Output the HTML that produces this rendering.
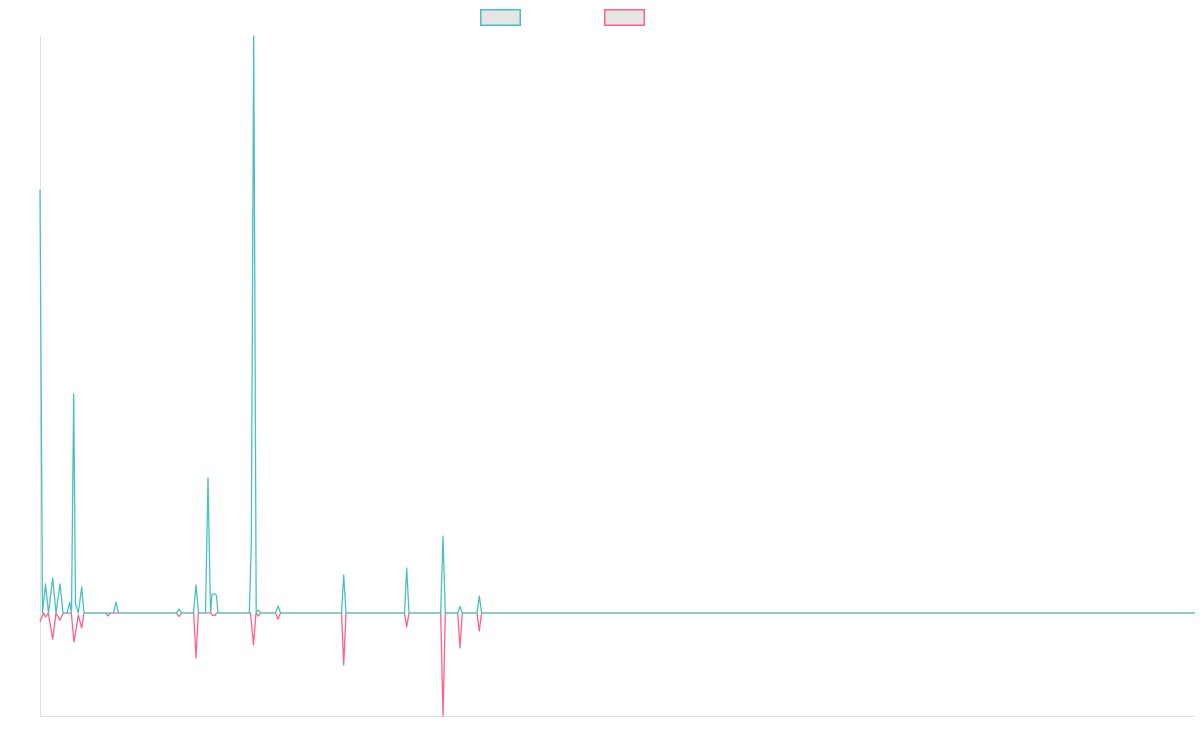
<!DOCTYPE html>
<html>
<head>
<meta charset="utf-8">
<style>
  html, body { margin:0; padding:0; background:#ffffff; }
  body { width:1200px; height:750px; overflow:hidden; font-family:"Liberation Sans", sans-serif; }
  svg { display:block; }
</style>
</head>
<body>
<svg width="1200" height="750" viewBox="0 0 1200 750" xmlns="http://www.w3.org/2000/svg">
  <!-- legend -->
  <rect x="480.75" y="9.75" width="39.5" height="15.5" fill="#e5e5e5" stroke="#4bc0c0" stroke-width="1.5"/>
  <rect x="604.75" y="9.75" width="39.5" height="15.5" fill="#e5e5e5" stroke="#ff6384" stroke-width="1.5"/>

  <!-- axes -->
  <line x1="40.5" y1="36" x2="40.5" y2="716.5" stroke="#e0e0e0" stroke-width="1"/>
  <line x1="40" y1="716.5" x2="1195" y2="716.5" stroke="#e0e0e0" stroke-width="1"/>

  <!-- pink series -->
  <polyline fill="none" stroke="#ff6384" stroke-width="1.3" stroke-linejoin="round" points="
    40,622 43.3,613 45.7,617 48.3,613 52.7,639 56,613 60,620 63.3,613 71.3,613 74,642 78.3,615 81.7,628 84,613
    105.5,613 108,616 110.5,613 176.5,613 179,616.5 181.5,613 193.7,613 196,658 198.3,613
    211,613 212.5,615.5 215,615.5 216.5,613
    250.5,613 253.5,645 256,613 258.3,616 260.5,613 275.5,613 278,619 280.5,613
    341.5,613 343.7,665 346,613 404.5,613 406.7,627 409,613 440.7,613 443,716 445.3,613
    457.7,613 460,648 462.3,613 477,613 479.3,631 481.6,613 1195,613"/>

  <!-- teal series -->
  <polyline fill="none" stroke="#4bc0c0" stroke-width="1.3" stroke-linejoin="round" points="
    40,190 42.5,613 45.5,584 48.5,613 52.7,578 56,613 60,584 63,613 67,613 69.7,602 71.5,613 73.7,394 75.5,604 78.3,613 81.7,587 84,613
    113.5,613 116,602 118.5,613 176.5,613 179,609 181.5,613 193.5,613 196,585 198.5,613
    205.5,613 208,478 210.5,613 212,595 213,594 215.5,594 216.5,596 218,613
    249.3,613 251.3,545 253.7,36 256.2,613 258.3,610 260.5,613 275.5,613 278,606 280.5,613
    341.5,613 343.7,575 346,613 404.5,613 406.7,568 409,613 440.7,613 443,536 445.3,613
    457.7,613 460,606.5 462.3,613 477,613 479.3,596 481.6,613 1195,613"/>
</svg>
</body>
</html>
